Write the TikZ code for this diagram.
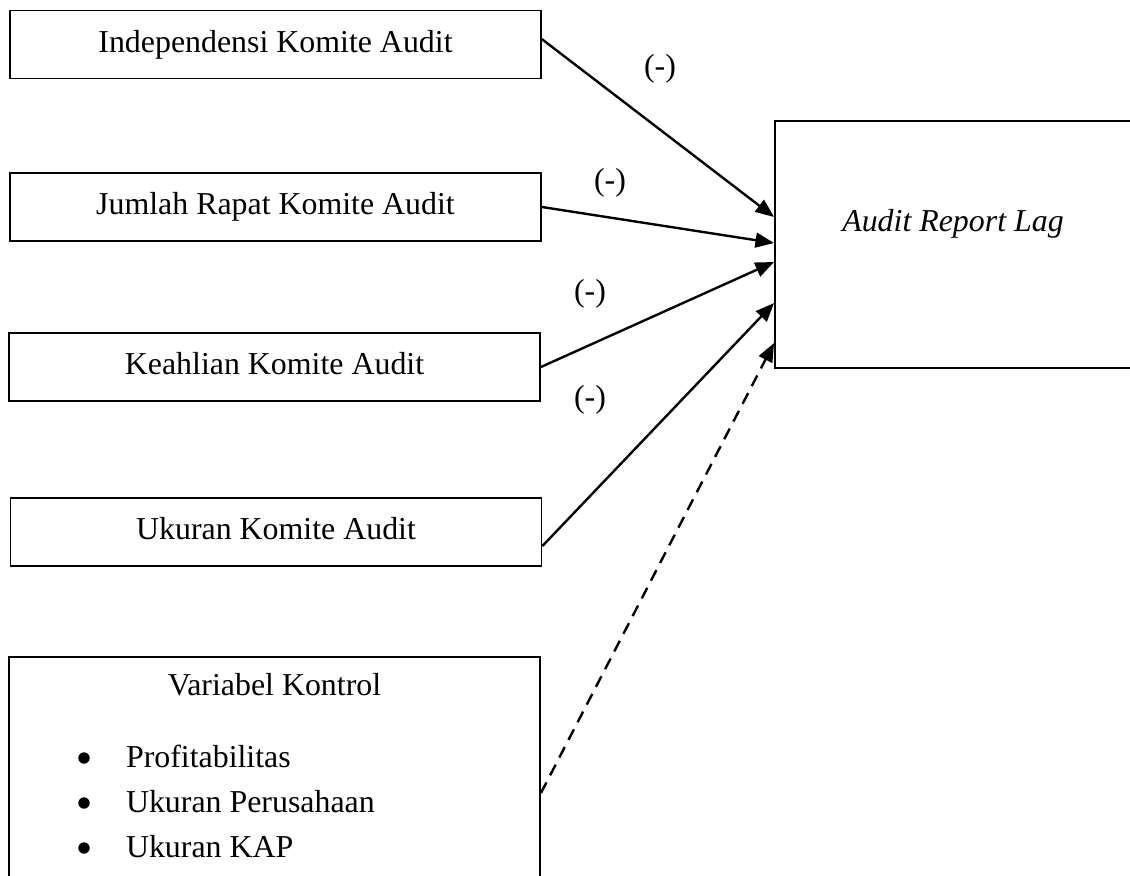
\documentclass[12pt,tikz,border=0pt]{standalone}
\usepackage{fontspec}
\setmainfont{Liberation Serif}
\usetikzlibrary{arrows.meta, positioning}

\begin{document}
\begin{tikzpicture}[x=0.01323cm, y=-0.01323cm,
  varbox/.style={draw, line width=0.7pt, minimum width=7.025cm, minimum height=0.9cm,
    text height=0.7em, text depth=0.22em},
  txt/.style={inner sep=0pt},
  bulletdot/.style={circle, fill, inner sep=0pt, minimum size=4.3pt},
  arr/.style={-{Triangle[length=7pt,width=5.6pt]}, line width=0.9pt}]
  \useasboundingbox (0,0) rectangle (1130,876);
  % independent variables
  \node[varbox] (indep) at (275.5,44.5) {Independensi Komite Audit};
  \node[varbox] (rapat) at (275.5,207) {Jumlah Rapat Komite Audit};
  \node[varbox] (keahlian) at (274.5,367) {Keahlian Komite Audit};
  \node[varbox] (ukuran) at (276,532) {Ukuran Komite Audit};
  % control variables
  \node[varbox, minimum height=3.6cm] (kontrol) at (274.5,793) {};
  \node[txt, anchor=base] (kontroltitle) at (274.5,695) {Variabel Kontrol};
  \foreach \i/\t in {1/Profitabilitas, 2/Ukuran Perusahaan, 3/Ukuran KAP} {
    \node[bulletdot] (dot\i) at (84,{713+45*\i}) {};
    \node[txt, anchor=base west] (item\i) at (125.5,{722+45*\i}) {\t};
  }
  % dependent variable
  \node[draw, line width=0.7pt, minimum width=4.71cm, minimum height=3.268cm] (arl) at (953,244.5) {};
  \node[txt, anchor=base] (arltext) at (953,231) {\textit{Audit Report Lag}};
  % arrows
  \draw[arr] ([yshift=2pt]indep.east) -- ([yshift=10.36pt]arl.west);
  \draw[arr] (rapat.east) -- ([yshift=0.56pt]arl.west);
  \draw[arr] (keahlian.east) -- ([yshift=-6.59pt]arl.west);
  \draw[arr] ([yshift=-5.27pt]ukuran.east) -- ([yshift=-22.03pt]arl.west);
  \draw[arr, dash pattern=on 4.5pt off 3pt] (kontrol.east) -- ([yshift=-37.1pt]arl.west);
  % signs
  \node (sign1) at (660,69) {(-)};
  \node (sign2) at (610,183) {(-)};
  \node (sign3) at (590,294) {(-)};
  \node (sign4) at (590,400) {(-)};
\end{tikzpicture}
\end{document}
